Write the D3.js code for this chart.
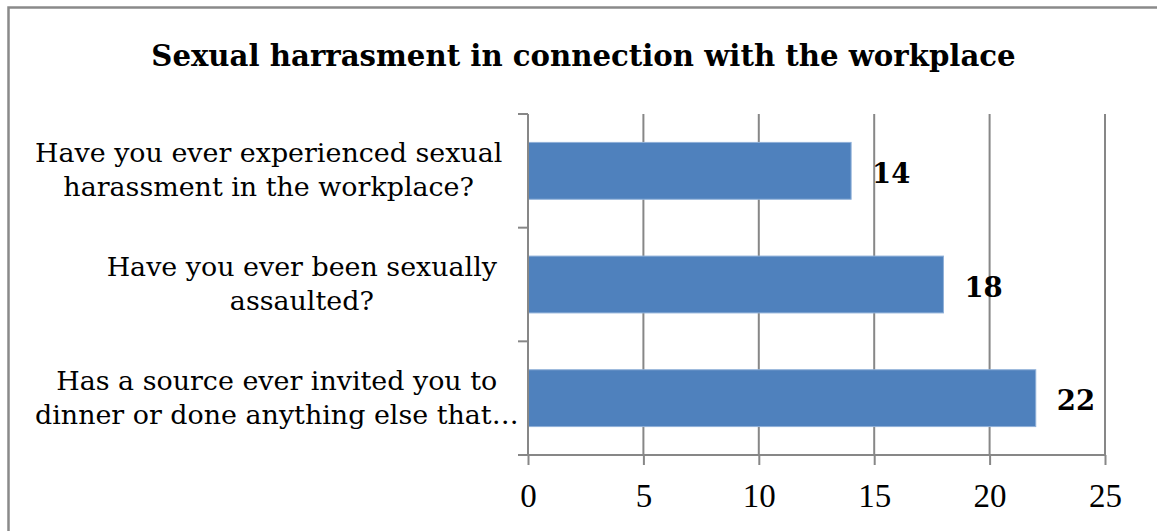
<!DOCTYPE html>
<html>
<head>
<meta charset="utf-8">
<script src="https://cdn.jsdelivr.net/npm/d3@7/dist/d3.min.js"></script>
<style>
  html, body { margin: 0; padding: 0; background: #fff; }
  svg { display: block; }
</style>
</head>
<body>
<svg id="chart" width="1157" height="531"></svg>
<script>
// Survey answers, top to bottom
const categories = [
  ["Have you ever experienced sexual", "harassment in the workplace?"],
  ["Have you ever been sexually", "assaulted?"],
  ["Has a source ever invited you to", "dinner or done anything else that\u2026"]
];
const values = [14, 18, 22];
const xTicks = [0, 5, 10, 15, 20, 25];
const title = "Sexual harrasment in connection with the workplace";

const W = 1157, H = 531;
const margin = { top: 114, right: 52, bottom: 76, left: 528 };
const serif = "'DejaVu Serif', serif";
const numSerif = "'Liberation Serif', 'DejaVu Serif', serif";
const gridColor = "#878787";

const svg = d3.select("#chart");

// outer frame (runs past the right and bottom edges)
svg.append("rect")
  .attr("x", 8.5).attr("y", 7.5)
  .attr("width", W + 10).attr("height", H + 10)
  .attr("fill", "#fff")
  .attr("stroke", "#8a8a8a").attr("stroke-width", 2.5);

svg.append("text")
  .attr("x", 583.5).attr("y", 66)
  .attr("text-anchor", "middle")
  .attr("font-family", serif).attr("font-weight", "bold")
  .attr("font-size", 29.2)
  .attr("fill", "#000")
  .text(title);

const x = d3.scaleLinear().domain([0, 25]).range([margin.left, W - margin.right]);
const y = d3.scaleBand()
  .domain(d3.range(categories.length))
  .range([margin.top, H - margin.bottom])
  .paddingInner(0.5).paddingOuter(0.25);

// vertical gridlines
svg.append("g").selectAll("line")
  .data(xTicks.slice(1))
  .join("line")
  .attr("x1", d => x(d)).attr("x2", d => x(d))
  .attr("y1", margin.top).attr("y2", H - margin.bottom)
  .attr("stroke", gridColor).attr("stroke-width", 2);

// bars
svg.append("g").selectAll("rect")
  .data(values)
  .join("rect")
  .attr("x", x(0))
  .attr("y", (d, i) => y(i))
  .attr("width", d => x(d) - x(0))
  .attr("height", y.bandwidth())
  .attr("fill", "#4f81bd")
  .attr("stroke", "#8fb0d8").attr("stroke-width", 1);

// value labels
svg.append("g").selectAll("text")
  .data(values)
  .join("text")
  .attr("x", d => x(d) + 21)
  .attr("y", (d, i) => y(i) + y.bandwidth() / 2 + 12)
  .attr("font-family", serif).attr("font-weight", "bold")
  .attr("font-size", 27.5)
  .attr("fill", "#000")
  .text(d => d);

// x axis
const xAxis = svg.append("g")
  .attr("transform", `translate(0,${H - margin.bottom})`)
  .call(d3.axisBottom(x).tickValues(xTicks).tickSize(10).tickSizeOuter(0));
xAxis.select(".domain").remove();
xAxis.selectAll(".tick line").attr("stroke", gridColor).attr("stroke-width", 2);
xAxis.selectAll(".tick text")
  .attr("y", 52).attr("dy", 0)
  .attr("font-family", numSerif).attr("font-size", 33).attr("fill", "#000");
xAxis.append("line")
  .attr("x1", margin.left - 10).attr("x2", W - margin.right)
  .attr("stroke", gridColor).attr("stroke-width", 2);

// y axis: line plus ticks on category boundaries
const yAxis = svg.append("g");
yAxis.append("line")
  .attr("x1", margin.left).attr("x2", margin.left)
  .attr("y1", margin.top).attr("y2", H - margin.bottom)
  .attr("stroke", gridColor).attr("stroke-width", 2);
const step = y.step();
yAxis.selectAll("line.tick")
  .data(d3.range(categories.length + 1))
  .join("line")
  .attr("class", "tick")
  .attr("x1", margin.left - 10).attr("x2", margin.left)
  .attr("y1", i => margin.top + i * step).attr("y2", i => margin.top + i * step)
  .attr("stroke", gridColor).attr("stroke-width", 2);

// category labels: block right-aligned to the axis, lines centred in the block
const labelRight = margin.left - 31, labelLeftLimit = 35, lineGap = 34;
const labels = svg.append("g");
categories.forEach((lines, i) => {
  const g = labels.append("g");
  const cy = y(i) + y.bandwidth() / 2;
  const texts = lines.map((s, k) => g.append("text")
    .attr("y", cy - 8.5 + k * lineGap)
    .attr("text-anchor", "middle")
    .attr("font-family", serif).attr("font-size", 26.9)
    .attr("fill", "#000")
    .text(s));
  const w = d3.max(texts, t => t.node().getComputedTextLength());
  const cx = Math.max(labelRight - w / 2, labelLeftLimit + w / 2);
  texts.forEach(t => t.attr("x", cx));
});
</script>
</body>
</html>
